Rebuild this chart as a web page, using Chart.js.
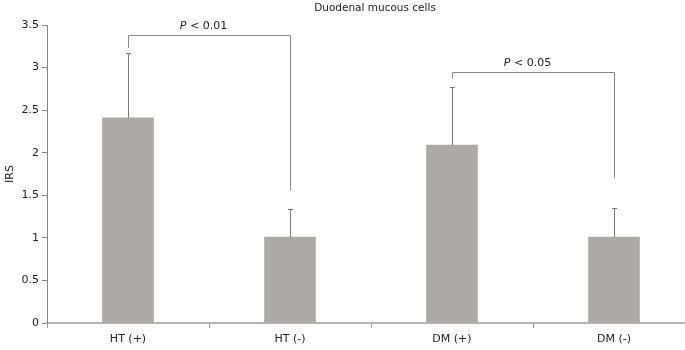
<!DOCTYPE html>
<html>
<head>
<meta charset="utf-8">
<script src="https://cdn.jsdelivr.net/npm/chart.js@4/dist/chart.umd.min.js"></script>
<style>
  html, body { margin: 0; padding: 0; background: #fff; overflow: hidden; }
  #wrap { width: 685px; height: 350px; position: relative; overflow: hidden; }
  #c { display: block; }
</style>
</head>
<body>
<div id="wrap"><canvas id="c" width="695" height="350"></canvas></div>
<script>
// ---- Data ----
const categories = ['HT (+)', 'HT (-)', 'DM (+)', 'DM (-)'];
const meanIRS = [2.41, 1.01, 2.09, 1.01];
const errorTop = [3.17, 1.34, 2.77, 1.35];
const yTicks = [0, 0.5, 1, 1.5, 2, 2.5, 3, 3.5];
const chartTitle = 'Duodenal mucous cells';
const yTitle = 'IRS';
// significance brackets
const bracketFrom = [0, 2];
const bracketTo = [1, 3];
const bracketLevel = [3.38, 2.95];
const bracketLeftEnd = [3.23, 2.87];
const bracketRightEnd = [1.56, 1.70];
const pValues = ['0.01', '0.05'];

const FONT = '"DejaVu Sans", Verdana, sans-serif';

const overlay = {
  id: 'overlay',
  afterDatasetsDraw(chart) {
    const ctx = chart.ctx;
    const x = chart.scales.x, y = chart.scales.y;
    ctx.save();
    // error bars
    ctx.strokeStyle = '#7a7a7a';
    ctx.lineWidth = 1;
    categories.forEach((c, i) => {
      const px = Math.round(x.getPixelForValue(i)) + 0.5;
      const y0 = y.getPixelForValue(meanIRS[i]);
      const y1 = Math.round(y.getPixelForValue(errorTop[i])) + 0.5;
      ctx.beginPath();
      ctx.moveTo(px, y0);
      ctx.lineTo(px, y1);
      ctx.moveTo(px - 2.5, y1);
      ctx.lineTo(px + 2.5, y1);
      ctx.stroke();
    });
    // brackets
    ctx.strokeStyle = '#8a8a8a';
    bracketFrom.forEach((f, k) => {
      const xl = Math.round(x.getPixelForValue(f)) + 0.5;
      const xr = Math.round(x.getPixelForValue(bracketTo[k])) + 0.5;
      const yl = Math.round(y.getPixelForValue(bracketLevel[k])) + 0.5;
      ctx.beginPath();
      ctx.moveTo(xl, y.getPixelForValue(bracketLeftEnd[k]));
      ctx.lineTo(xl, yl);
      ctx.lineTo(xr, yl);
      ctx.lineTo(xr, y.getPixelForValue(bracketRightEnd[k]));
      ctx.stroke();
      // label
      const p = 'P';
      const rest = ' < ' + pValues[k];
      ctx.font = 'italic 11px ' + FONT;
      const wp = ctx.measureText(p).width;
      ctx.font = '11px ' + FONT;
      const wr = ctx.measureText(rest).width;
      const cx = (xl + xr) / 2 - 6;
      const sx = cx - (wp + wr) / 2;
      ctx.fillStyle = '#222';
      ctx.textBaseline = 'middle';
      ctx.textAlign = 'left';
      ctx.font = 'italic 11px ' + FONT;
      ctx.fillText(p, sx, yl - 9);
      ctx.font = '11px ' + FONT;
      ctx.fillText(rest, sx + wp, yl - 9);
    });
    // title
    ctx.font = '10.5px ' + FONT;
    ctx.fillStyle = '#222';
    ctx.textAlign = 'center';
    ctx.textBaseline = 'middle';
    ctx.fillText(chartTitle, 375, 8);
    ctx.restore();
  }
};

new Chart(document.getElementById('c'), {
  type: 'bar',
  data: {
    labels: categories,
    datasets: [{
      data: meanIRS,
      backgroundColor: '#ada9a7',
      borderWidth: 0,
      barThickness: 51
    }]
  },
  options: {
    responsive: false,
    animation: false,
    devicePixelRatio: 1,
    layout: { padding: { top: 25, right: 0, left: 0, bottom: 0 } },
    plugins: { legend: { display: false }, tooltip: { enabled: false }, title: { display: false } },
    scales: {
      x: {
        offset: true,
        grid: { offset: true, drawOnChartArea: false, tickLength: 5, color: '#9a9a9a' },
        border: { color: '#b4b4b4', width: 2 },
        ticks: { color: '#222', font: { family: FONT, size: 11 }, padding: 5 },
        afterFit(s) { s.height = 27; }
      },
      y: {
        min: 0, max: 3.5,
        afterBuildTicks(s) { s.ticks = yTicks.map(v => ({ value: v })); },
        grid: { drawOnChartArea: false, tickLength: 5, color: '#8a8580' },
        border: { color: '#8a8580', width: 1 },
        ticks: { color: '#222', font: { family: FONT, size: 11 }, padding: 3, callback: v => String(v) },
        title: { display: true, text: yTitle, color: '#222', font: { family: FONT, size: 11 }, padding: { top: 4, bottom: 4 } },
        afterFit(s) { s.width = 47; }
      }
    }
  },
  plugins: [overlay]
});
</script>
</body>
</html>
